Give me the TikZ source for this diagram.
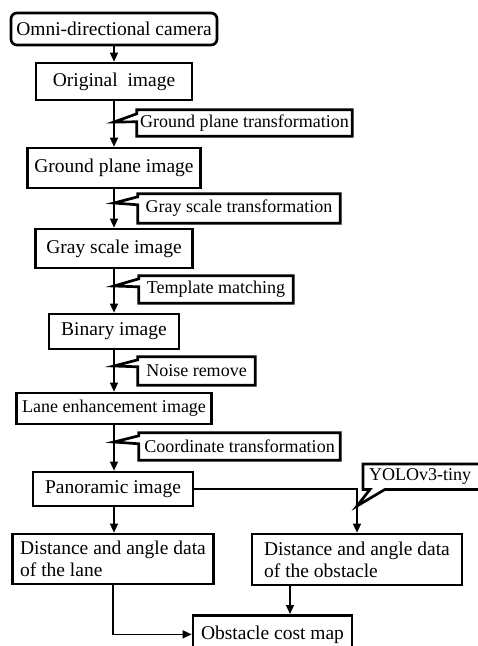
\documentclass[tikz,border=0pt]{standalone}
\usepackage{fontspec}
\setmainfont{Liberation Serif}
\usetikzlibrary{arrows.meta,calc}
\pgfdeclarelayer{background}
\pgfsetlayers{background,main}
\tikzset{
  box/.style={draw, line width=2.7pt, inner sep=0pt, align=center, fill=white,
    font=\fontsize{19.5}{22}\selectfont},
  ctext/.style={inner sep=0pt, font=\fontsize{18}{21}\selectfont},
  cline/.style={line width=2.7pt, fill=white, line join=miter},
  arr/.style={line width=1.4pt, -{Triangle[length=9pt,width=8pt]}},
}
\begin{document}
\begin{tikzpicture}[x=1pt,y=-1pt]
\useasboundingbox (0,0) rectangle (478,646);
\clip (0,0) rectangle (478,646);
% main column boxes
\node[box, rounded corners=6pt, minimum width=206, minimum height=32] (cam) at (114,29) {Omni-directional camera};
\node[box, minimum width=156, minimum height=37] (orig) at (114,81.5) {Original\ \ image};
\node[box, minimum width=173, minimum height=40] (gpimg) at (114,168) {Ground plane image};
\node[box, minimum width=157, minimum height=39] (gsimg) at (114,248.5) {Gray scale image};
\node[box, minimum width=130, minimum height=35] (bin) at (114,331.5) {Binary image};
\node[box, minimum width=195, minimum height=31, font=\fontsize{18}{21}\selectfont] (lane) at (114,408.5) {Lane enhancement image};
\node[box, minimum width=160, minimum height=34] (pan) at (113,489) {Panoramic image};
\node[box, minimum width=201, minimum height=50, align=left] (dlane) at (113,559) {Distance and angle data\\of the lane};
\node[box, minimum width=210, minimum height=51, align=left] (dobs) at (357,559.5) {Distance and angle data\\of the obstacle};
\node[box, minimum width=159, minimum height=38, anchor=north] (cost) at (272.5,614) {Obstacle cost map};
% callout texts
\node[ctext, minimum width=215, minimum height=26] (c1) at (244.5,123) {Ground plane transformation};
\node[ctext, minimum width=202, minimum height=29] (c2) at (239,208.5) {Gray scale transformation};
\node[ctext, minimum width=154, minimum height=27] (c3) at (216,289.5) {Template matching};
\node[ctext, minimum width=117, minimum height=28] (c4) at (196.5,371) {Noise remove};
\node[ctext, minimum width=201, minimum height=27] (c5) at (239.5,446.5) {Coordinate transformation};
\node[ctext, minimum width=122, minimum height=25, anchor=north west, align=left, text width=112, inner xsep=6pt] (c6) at (363,464) {YOLOv3-tiny};
% tips on the lines
\coordinate (t1) at (114,122);
\coordinate (t2) at (114,203);
\coordinate (t3) at (114,286);
\coordinate (t4) at (114,366);
\coordinate (t5) at (114,442);
\coordinate (t6) at (357,506);
\coordinate (d1) at ($(dobs.south)+(-67,0)$);
% connectors
\draw[arr] (cam.south) -- (orig.north);
\draw[arr] (orig.south) -- (gpimg.north);
\draw[arr] (gpimg.south) -- (gsimg.north);
\draw[arr] (gsimg.south) -- (bin.north);
\draw[arr] (bin.south) -- (lane.north);
\draw[arr] (lane.south) -- (lane.south |- pan.north);
\draw[arr] (lane.south |- pan.south) -- (lane.south |- dlane.north);
\draw[arr] (pan.east) -| (dobs.north);
\draw[arr] (d1) -- (d1 |- cost.north);
\draw[arr] (dlane.south) |- (cost.west);
% callout outlines
\begin{pgfonlayer}{background}
\foreach \c/\t/\a/\b in {c1/t1/4/12, c2/t2/3/11, c3/t3/3/11, c4/t4/3/10, c5/t5/3/11}{
  \draw[cline] (\c.north west) -- (\c.north east) -- (\c.south east) -- (\c.south west)
    -- ($(\c.north west)+(0,\b)$) -- (\t) -- ($(\c.north west)+(0,\a)$) -- cycle;
}
\draw[cline] (c6.north west) -- (c6.north east) -- (c6.south east)
  -- ($(c6.south west)+(22,0)$) -- (t6) -- ($(c6.south west)+(7,0)$) -- (c6.south west) -- cycle;
\end{pgfonlayer}
\end{tikzpicture}
\end{document}
